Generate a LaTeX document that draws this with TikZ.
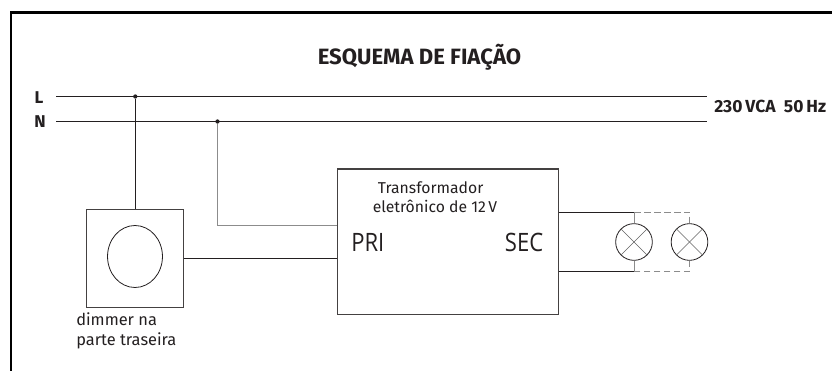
\documentclass[tikz,border=0pt]{standalone}
\usetikzlibrary{shapes.geometric}
\usepackage{fontspec}
\setmainfont{Fira Sans}
\newfontfamily\cond[FakeStretch=0.87]{Open Sans}
\definecolor{wire}{HTML}{231F20}
\definecolor{gwire}{HTML}{8C8C8C}
\tikzset{
  wireline/.style={draw=wire,line width=0.75pt},
  greyline/.style={draw=gwire,line width=0.75pt},
  dashline/.style={draw=gwire,line width=0.75pt,dash pattern=on 5pt off 2.5pt},
  boxnode/.style={draw=wire!85,line width=0.8pt,inner sep=0pt},
  dotnode/.style={circle,fill=wire,inner sep=0pt,minimum size=3.2pt},
  lampnode/.style={circle,draw=wire,line width=0.6pt,minimum size=27.5pt,inner sep=0pt},
  lampx/.style={draw=gwire!70!black,line width=0.45pt},
  txt/.style={inner sep=0pt,text=wire},
  boldtxt/.style={txt,font=\bfseries\fontsize{12.8}{15}\selectfont},
  bigtxt/.style={txt,font=\cond\fontsize{19}{22}\selectfont},
}
\begin{document}
\begin{tikzpicture}[x=0.75pt,y=-0.75pt]
\useasboundingbox (0,0) rectangle (832,371);
\draw[line width=2.2pt,black] (11,371) -- (11,12.5) -- (832,12.5);
\node[txt,font=\bfseries\fontsize{16.6}{19}\selectfont] (title) at (419.5,57) {ESQUEMA DE FIAÇÃO};
\node[boldtxt] (labL) at (39,98) {L};
\node[boldtxt] (labN) at (40,122) {N};
\node[boldtxt,anchor=west,font=\bfseries\fontsize{13.1}{15}\selectfont] (volt) at (714,106.5) {230\,VCA\ \ 50\,Hz};
\coordinate (Ls) at (56,96.5); \coordinate (Le) at (707,96.5);
\coordinate (Ns) at (56,121.5); \coordinate (Ne) at (707,121.5);
\draw[wireline] (Ls) -- (Le);
\draw[wireline] (Ns) -- (Ne);
\node[dotnode] (jL) at (135.3,96.5) {};
\node[dotnode] (jN) at (217.5,121.5) {};
% dimmer
\node[boxnode,minimum width=72.8pt,minimum height=73.5pt] (dim) at (135.2,258.5) {};
\node[ellipse,draw=wire,line width=0.6pt,inner sep=0pt,minimum width=41.2pt,minimum height=46.5pt] (knob) at (135,256.5) {};
\node[txt,font=\fontsize{12.3}{15}\selectfont,anchor=north west,align=left] (dimtxt) at (76,312.5) {dimmer na\\parte traseira};
% transformer
\node[boxnode,minimum width=165.4pt,minimum height=108.8pt] (tr) at (447.8,241.5) {};
\node[txt,font=\fontsize{11.8}{14.3}\selectfont,align=center] (trtxt) at (435,197.5) {Transformador\hbox to 6.5pt{}\\eletrônico de 12\,V};
\node[bigtxt,anchor=west] (pri) at (351,242.5) {PRI};
\node[bigtxt,anchor=east] (sec) at (543.5,242.5) {SEC};
% lamps
\node[lampnode] (l1) at (634,242) {};
\node[lampnode] (l2) at (689.5,242) {};
\foreach \L in {l1,l2}{
  \draw[lampx] (\L.45) -- (\L.225);
  \draw[lampx] (\L.135) -- (\L.315);
}
% wires
\draw[wireline] (jL) -- (jL |- dim.north);
\coordinate (a1) at (tr.west |- 0,258);
\draw[wireline] (dim.east |- a1) -- (a1);
\coordinate (a2) at (tr.west |- 0,225);
\draw[greyline] (jN) -- (jN |- a2) -- (a2);
\coordinate (b1) at (l1.north |- 0,212);
\coordinate (b2) at (l1.south |- 0,271.5);
\coordinate (c1) at (l2.north |- 0,212);
\coordinate (c2) at (l2.south |- 0,271.5);
\draw[wireline] (tr.east |- b1) -- (b1);
\draw[wireline] (tr.east |- b2) -- (b2);
\draw[greyline] (b1) -- (l1.north);
\draw[greyline] (l1.south) -- (b2);
\draw[dashline] (b1) -- (c1) -- (l2.north);
\draw[dashline] (l2.south) -- (c2) -- (b2);
\end{tikzpicture}
\end{document}
